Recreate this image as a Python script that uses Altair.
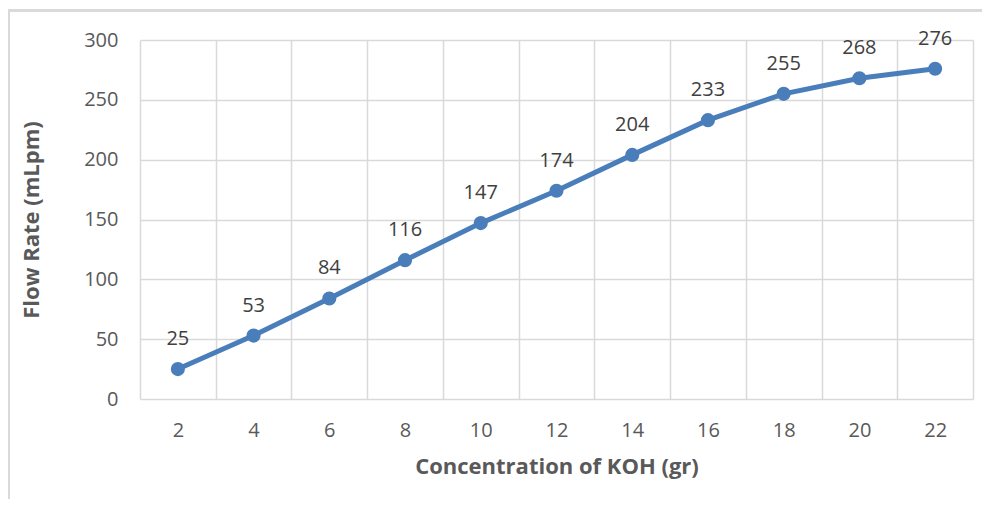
import altair as alt
import pandas as pd

concentration = [2, 4, 6, 8, 10, 12, 14, 16, 18, 20, 22]
flow_rate = [25, 53, 84, 116, 147, 174, 204, 233, 255, 268, 276]
y_ticks = [0, 50, 100, 150, 200, 250, 300]

df = pd.DataFrame({"conc": concentration, "flow": flow_rate})

FONT = "Open Sans"
GREY = "#595959"
GRID = "#d9d9d9"
BLUE = "#4a7ebb"

x_enc = alt.X(
    "conc:O",
    sort=concentration,
    scale=alt.Scale(paddingInner=0, paddingOuter=0),
    axis=alt.Axis(
        title="Concentration of KOH (gr)",
        tickBand="extent",
        grid=True,
        gridColor=GRID,
        gridWidth=1.5,
        domain=False,
        ticks=False,
        labelAngle=0,
        labelPadding=21,
        labelFontSize=20,
        labelColor=GREY,
        labelFont=FONT,
        titleFont=FONT,
        titleFontSize=22,
        titleFontWeight="bold",
        titleColor=GREY,
        titlePadding=16,
    ),
)
y_enc = alt.Y(
    "flow:Q",
    scale=alt.Scale(domain=[0, 300], nice=False),
    axis=alt.Axis(
        title="Flow Rate (mLpm)",
        values=y_ticks,
        grid=True,
        gridColor=GRID,
        gridWidth=1.5,
        domain=False,
        ticks=False,
        labelPadding=22,
        labelFontSize=20,
        labelColor=GREY,
        labelFont=FONT,
        titleFont=FONT,
        titleFontSize=22,
        titleFontWeight="bold",
        titleColor=GREY,
        titlePadding=40,
    ),
)

base = alt.Chart(df).encode(x=x_enc, y=y_enc)

line = base.mark_line(color=BLUE, strokeWidth=5)
points = base.mark_point(filled=True, color=BLUE, size=200, opacity=1)
labels = base.mark_text(
    dy=-30, fontSize=20, font=FONT, color="#404040"
).encode(text="flow:Q")

frame_v = alt.Chart(df).mark_rule(color=GRID, strokeWidth=2).encode(
    x=alt.value(-131.5), y=alt.value(-29.5), y2=alt.value(480)
)
frame_h = alt.Chart(df).mark_rule(color=GRID, strokeWidth=2).encode(
    x=alt.value(-131.5), x2=alt.value(900), y=alt.value(-29.5)
)

chart = (
    alt.layer(frame_v, frame_h, line, points, labels)
    .properties(
        width=833,
        height=359,
        autosize=alt.AutoSizeParams(type="none"),
        padding={"left": 132, "top": 32, "right": 9, "bottom": 100},
    )
    .configure_view(stroke=None)
)

chart.save("out.html", embed_options={"renderer": "svg", "actions": False})
